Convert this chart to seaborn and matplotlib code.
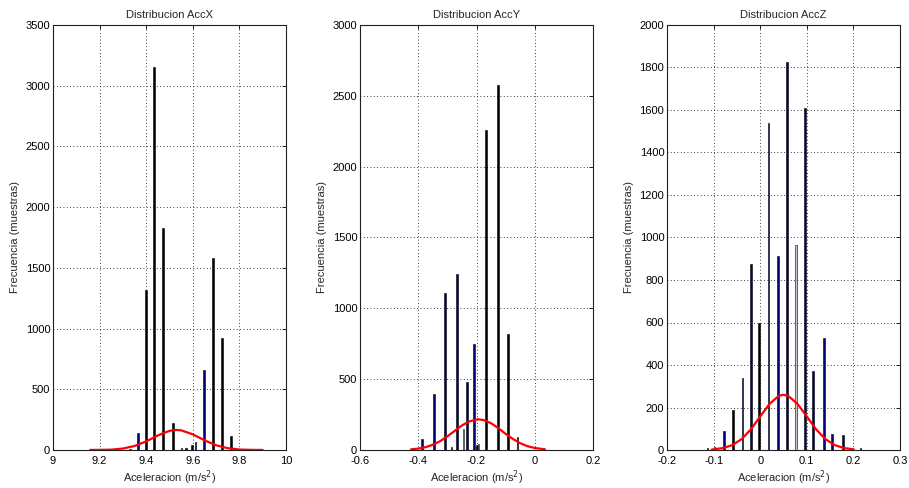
import numpy as np
import pandas as pd
import matplotlib
matplotlib.use("Agg")
import matplotlib.pyplot as plt
import seaborn as sns

# ---------------- data ----------------
# Panel X
accx_pos = [9.330, 9.366, 9.398, 9.433, 9.471, 9.516, 9.552, 9.570, 9.598, 9.612, 9.648, 9.688, 9.725, 9.763]
accx_cnt = [10, 137, 1315, 3150, 1825, 220, 20, 15, 40, 70, 660, 1580, 920, 115]
accx_shade = ["k", "b", "k", "k", "k", "k", "k", "k", "k", "b", "b", "k", "k", "k"]
accx_fit_x = [9.16, 9.20, 9.25, 9.30, 9.35, 9.40, 9.45, 9.50, 9.53, 9.55, 9.60, 9.65, 9.70, 9.75, 9.80, 9.85, 9.90]
accx_fit_y = [0.5, 1, 3, 12, 33, 71, 120, 158, 165, 162, 129, 80, 39, 15, 4, 1, 0.5]

# Panel Y
accy_pos = [-0.387, -0.345, -0.309, -0.286, -0.268, -0.245, -0.233, -0.209, -0.199, -0.193, -0.1685, -0.126, -0.092, -0.059]
accy_cnt = [75, 395, 1110, 24, 1245, 145, 478, 750, 35, 40, 2260, 2575, 820, 90]
accy_shade = ["b", "b", "b", "b", "b", "g", "b", "b", "k", "g", "k", "k", "k", "k"]
accy_fit_x = [-0.425, -0.40, -0.375, -0.35, -0.325, -0.30, -0.275, -0.25, -0.225, -0.194, -0.175, -0.15, -0.125, -0.10, -0.075, -0.05, -0.025, 0.0, 0.035]
accy_fit_y = [4.5, 10, 20, 37, 62, 96, 135, 173, 202, 217, 211, 189, 154, 114, 78, 48, 27, 14, 5]

# Panel Z
accz_pos = [-0.113, -0.098, -0.078, -0.058, -0.038, -0.020, -0.002, 0.018, 0.0375, 0.0575, 0.0768, 0.0968, 0.114, 0.137, 0.154, 0.177, 0.215]
accz_cnt = [10, 15, 90, 190, 340, 875, 600, 1540, 915, 1825, 965, 1610, 370, 525, 75, 70, 10]
accz_shade = ["k", "b", "b", "k", "b", "b", "k", "b", "b", "b", "g", "b", "b", "b", "b", "b", "k"]
accz_fit_x = [-0.104, -0.08, -0.06, -0.04, -0.02, 0.0, 0.02, 0.04, 0.05, 0.06, 0.08, 0.10, 0.12, 0.14, 0.16, 0.18, 0.201]
accz_fit_y = [2, 9, 23, 51, 97, 158, 217, 255, 260, 255, 217, 158, 97, 51, 23, 9, 3]

titles = ["Distribucion AccX", "Distribucion AccY", "Distribucion AccZ"]
xlims = [(9, 10), (-0.6, 0.2), (-0.2, 0.3)]
xticks = [[9, 9.2, 9.4, 9.6, 9.8, 10], [-0.6, -0.4, -0.2, 0, 0.2], [-0.2, -0.1, 0, 0.1, 0.2, 0.3]]
xticklabels = [["9", "9.2", "9.4", "9.6", "9.8", "10"],
               ["-0.6", "-0.4", "-0.2", "0", "0.2"],
               ["-0.2", "-0.1", "0", "0.1", "0.2", "0.3"]]
ylims = [(0, 3500), (0, 3000), (0, 2000)]
ystep = [500, 500, 200]

# ---------------- style ----------------
sns.set_theme(style="white")
plt.rcParams["font.family"] = ["Liberation Sans", "DejaVu Sans"]
plt.rcParams["font.size"] = 8

fig = plt.figure(figsize=(9.09, 4.88), dpi=100)
fig.patch.set_facecolor("white")

lefts = [53 / 909, 360 / 909, 667 / 909]
bottom = 1 - 450 / 488
width = 233 / 909
height = 425 / 488

shade_col = {"b": "#00006e", "k": "#000000", "g": "#c8c8c8"}

panels = [
    (accx_pos, accx_cnt, accx_shade, accx_fit_x, accx_fit_y),
    (accy_pos, accy_cnt, accy_shade, accy_fit_x, accy_fit_y),
    (accz_pos, accz_cnt, accz_shade, accz_fit_x, accz_fit_y),
]

for i, (pos, cnt, shade, fx, fy) in enumerate(panels):
    ax = fig.add_axes([lefts[i], bottom, width, height])
    x0, x1 = xlims[i]
    bw = 1.7 * (x1 - x0) / 233.0
    ax.bar(pos, cnt, width=bw, color=[shade_col[s] for s in shade],
           edgecolor="black", linewidth=0.4, zorder=3)
    fit_df = pd.DataFrame({"x": fx, "y": fy})
    sns.lineplot(data=fit_df, x="x", y="y", ax=ax, color="#ff0000", linewidth=1.6,
                 zorder=4, sort=False)
    ax.set_xlim(x0, x1)
    ax.set_ylim(*ylims[i])
    ax.set_xticks(xticks[i])
    ax.set_xticklabels(xticklabels[i])
    ax.set_yticks(np.arange(ylims[i][0], ylims[i][1] + 1, ystep[i]))
    ax.grid(True, linestyle=(0, (1, 3)), color="black", linewidth=0.6, zorder=0)
    ax.set_axisbelow(True)
    for sp in ax.spines.values():
        sp.set_visible(True)
        sp.set_color("#202020")
        sp.set_linewidth(0.8)
    ax.tick_params(direction="in", length=3, width=0.6, top=True, right=True,
                   labelsize=8, colors="black")
    ax.tick_params(axis="x", pad=4)
    ax.tick_params(axis="y", pad=2)
    ax.set_title(titles[i], fontsize=8, pad=5)
    ax.set_xlabel("Aceleracion (m/s$^2$)", fontsize=8, labelpad=2)
    ax.set_ylabel("Frecuencia (muestras)", fontsize=8, labelpad=4)

fig.savefig("out.png", dpi=100, facecolor="white")
